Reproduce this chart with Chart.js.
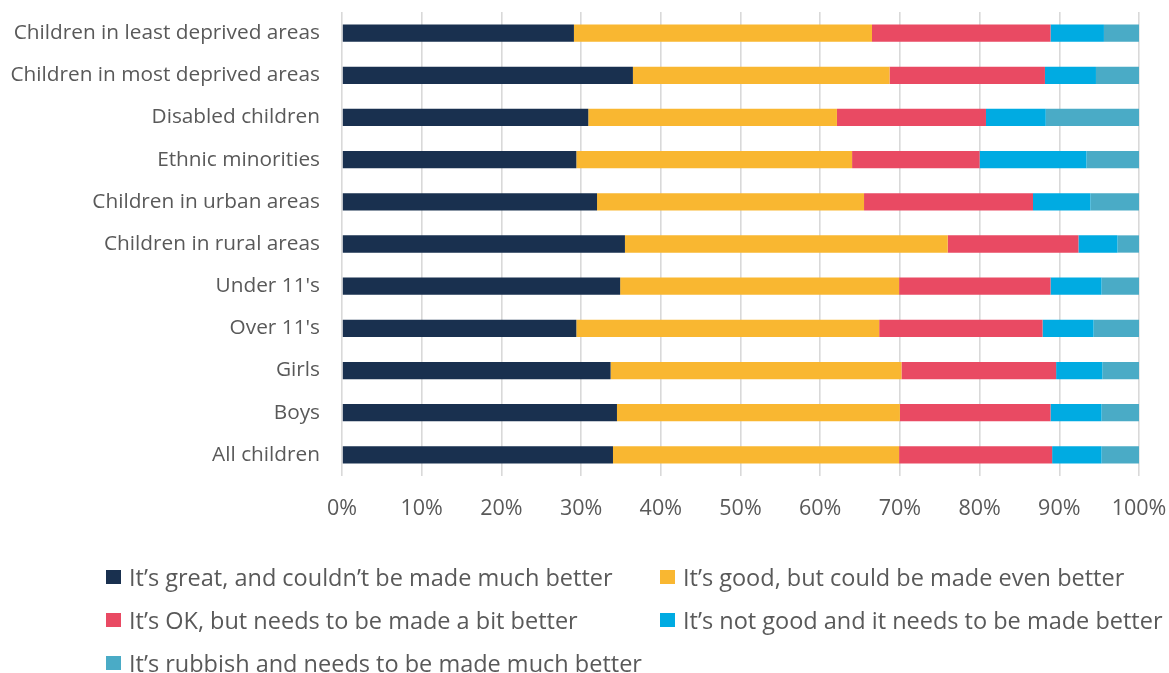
<!DOCTYPE html>
<html>
<head>
<meta charset="utf-8">
<script src="https://cdn.jsdelivr.net/npm/chart.js@4/dist/chart.umd.min.js"></script>
<style>
  body { margin: 0; background: #fff; }
  #wrap { position: relative; width: 1169px; height: 673px; }
  #legend {
    position: absolute; left: 106px; top: 555px;
    display: grid; grid-template-columns: 554px auto; row-gap: 0;
    font-family: "Open Sans", sans-serif; font-size: 23.5px; color: #595959;
  }
  #legend .item { display: flex; align-items: center; height: 43px; white-space: nowrap; }
  #legend .box { width: 15px; height: 14px; margin-right: 8px; flex: none; }
</style>
</head>
<body>
<div id="wrap">
  <canvas id="survey-chart" width="1169" height="673"></canvas>
  <div id="legend"></div>
</div>
<script>
const groups = [
  'Children in least deprived areas',
  'Children in most deprived areas',
  'Disabled children',
  'Ethnic minorities',
  'Children in urban areas',
  'Children in rural areas',
  "Under 11's",
  "Over 11's",
  'Girls',
  'Boys',
  'All children',
];

// 各回答比例 (%)
const great = [29.1, 36.5, 30.9, 29.4, 32.0, 35.5, 34.9, 29.4, 33.7, 34.5, 34.0];
const good = [37.4, 32.2, 31.2, 34.6, 33.5, 40.5, 35.0, 38.0, 36.5, 35.5, 35.9];
const ok = [22.4, 19.5, 18.7, 16.0, 21.2, 16.4, 19.0, 20.5, 19.4, 18.9, 19.2];
const notGood = [6.7, 6.4, 7.5, 13.4, 7.2, 4.9, 6.4, 6.4, 5.8, 6.4, 6.2];
const rubbish = [4.4, 5.4, 11.7, 6.6, 6.1, 2.7, 4.7, 5.7, 4.6, 4.7, 4.7];

const answerLabels = [
  'It’s great, and couldn’t be made much better',
  'It’s good, but could be made even better',
  'It’s OK, but needs to be made a bit better',
  'It’s not good and it needs to be made better',
  'It’s rubbish and needs to be made much better',
];
const answerColors = ['#19304f', '#f9b731', '#e94a63', '#00abe2', '#4aabc6'];
const xTicks = [0, 10, 20, 30, 40, 50, 60, 70, 80, 90, 100];

const seriesValues = [great, good, ok, notGood, rubbish];
const textColor = '#595959';
const fontFamily = '"Open Sans", sans-serif';

const datasets = seriesValues.map((values, i) => ({
  label: answerLabels[i],
  data: values,
  backgroundColor: answerColors[i],
  borderWidth: 0,
  barPercentage: 0.41,
  categoryPercentage: 1,
}));

new Chart(document.getElementById('survey-chart'), {
  type: 'bar',
  data: { labels: groups, datasets },
  options: {
    indexAxis: 'y',
    responsive: false,
    animation: false,
    layout: { padding: { top: 12, right: 30, bottom: 137, left: 0 } },
    plugins: {
      legend: { display: false },
      tooltip: { enabled: false },
    },
    scales: {
      x: {
        stacked: true,
        min: 0,
        max: 100,
        afterBuildTicks: (scale) => {
          scale.ticks = xTicks.map((v) => ({ value: v }));
        },
        // 固定軸高，並取消標籤帶來的額外邊距
        afterFit: (scale) => {
          scale.height = 60;
          scale.paddingLeft = 0;
          scale.paddingRight = 0;
        },
        ticks: {
          color: textColor,
          font: { family: fontFamily, size: 21.5 },
          padding: 20,
          maxRotation: 0,
          callback: (v) => v + '%',
        },
        grid: { color: '#d9d9d9', lineWidth: 1.6, drawTicks: false },
        border: { display: false },
      },
      y: {
        stacked: true,
        afterFit: (scale) => {
          scale.width = 342;
          scale.paddingTop = 0;
          scale.paddingBottom = 0;
        },
        ticks: {
          color: textColor,
          font: { family: fontFamily, size: 20.8 },
          padding: 22,
        },
        grid: { display: false, drawTicks: false },
        border: { display: false },
      },
    },
  },
});

// 圖例：兩欄排列
const legendEl = document.getElementById('legend');
answerLabels.forEach((text, i) => {
  const item = document.createElement('div');
  item.className = 'item';
  const box = document.createElement('span');
  box.className = 'box';
  box.style.background = answerColors[i];
  const label = document.createElement('span');
  label.textContent = text;
  item.appendChild(box);
  item.appendChild(label);
  legendEl.appendChild(item);
});
</script>
</body>
</html>
